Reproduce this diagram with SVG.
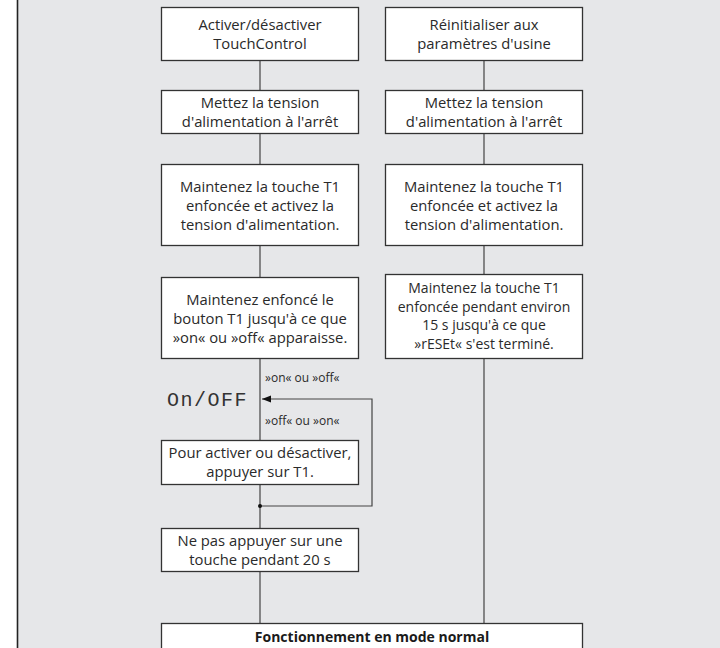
<svg xmlns="http://www.w3.org/2000/svg" width="720" height="648" viewBox="0 0 720 648">
<defs>
<style>
.box{fill:#fff;stroke:#333;stroke-width:1.3}
.t{font-family:"Open Sans","Noto Sans",sans-serif;font-size:14.8px;fill:#2a2a2a;text-anchor:middle}
.t4{font-size:14px}
.lbl{font-family:"Open Sans","Noto Sans",sans-serif;font-size:12px;fill:#2a2a2a}
.ln{fill:none;stroke:#444;stroke-width:1.2}
.b{font-family:"Open Sans","Noto Sans",sans-serif;font-size:14px;font-weight:bold;fill:#1a1a1a;text-anchor:middle}
</style>
<marker id="arr" markerWidth="10" markerHeight="8" refX="9" refY="4" orient="auto" markerUnits="userSpaceOnUse">
<path d="M0,0.5 L9,4 L0,7.5 Z" fill="#111"/>
</marker>
</defs>
<rect x="0" y="0" width="720" height="648" fill="#fff"/>
<rect x="17" y="0" width="703" height="648" fill="#e6e7e9"/>
<line x1="17.5" y1="0" x2="17.5" y2="648" stroke="#222" stroke-width="1.6"/>

<g id="connectors">
<line class="ln" x1="260" y1="61" x2="260" y2="91"/>
<line class="ln" x1="260" y1="134" x2="260" y2="165"/>
<line class="ln" x1="260" y1="246" x2="260" y2="277"/>
<line class="ln" x1="260" y1="358" x2="260" y2="440"/>
<line class="ln" x1="260" y1="485" x2="260" y2="528"/>
<line class="ln" x1="260" y1="572" x2="260" y2="623"/>
<path class="ln" d="M260,506 H372 V399 H262" marker-end="url(#arr)"/>
<circle cx="260" cy="506" r="2" fill="#111"/>
<line class="ln" x1="484" y1="61" x2="484" y2="91"/>
<line class="ln" x1="484" y1="134" x2="484" y2="165"/>
<line class="ln" x1="484" y1="246" x2="484" y2="275"/>
<line class="ln" x1="484" y1="359" x2="484" y2="623"/>
<text class="lbl" x="265" y="382">»on« ou »off«</text>
<text class="lbl" x="265" y="425">»off« ou »on«</text>
</g>

<g id="n1">
<rect class="box" x="161.5" y="7.5" width="197" height="53"/>
<text class="t" x="260" y="30">Activer/désactiver</text>
<text class="t" x="260" y="49">TouchControl</text>
</g>
<g id="n2">
<rect class="box" x="385.5" y="7.5" width="197" height="53"/>
<text class="t" x="484" y="30">Réinitialiser aux</text>
<text class="t" x="484" y="49">paramètres d'usine</text>
</g>
<g id="n3">
<rect class="box" x="161.5" y="90.5" width="197" height="43"/>
<text class="t" x="260" y="107.5">Mettez la tension</text>
<text class="t" x="260" y="126.5">d'alimentation à l'arrêt</text>
</g>
<g id="n4">
<rect class="box" x="385.5" y="90.5" width="197" height="43"/>
<text class="t" x="484" y="107.5">Mettez la tension</text>
<text class="t" x="484" y="126.5">d'alimentation à l'arrêt</text>
</g>
<g id="n5">
<rect class="box" x="161.5" y="164.5" width="197" height="81"/>
<text class="t" x="260" y="191.5">Maintenez la touche T1</text>
<text class="t" x="260" y="210.5">enfoncée et activez la</text>
<text class="t" x="260" y="229.5">tension d'alimentation.</text>
</g>
<g id="n6">
<rect class="box" x="385.5" y="164.5" width="197" height="81"/>
<text class="t" x="484" y="191.5">Maintenez la touche T1</text>
<text class="t" x="484" y="210.5">enfoncée et activez la</text>
<text class="t" x="484" y="229.5">tension d'alimentation.</text>
</g>
<g id="n7">
<rect class="box" x="161.5" y="277.5" width="197" height="81"/>
<text class="t" x="260" y="304.5">Maintenez enfoncé le</text>
<text class="t" x="260" y="323.5">bouton T1 jusqu'à ce que</text>
<text class="t" x="260" y="342.5">»on« ou »off« apparaisse.</text>
</g>
<g id="n8">
<rect class="box" x="385.5" y="274.5" width="197" height="84"/>
<text class="t t4" x="484" y="293">Maintenez la touche T1</text>
<text class="t t4" x="484" y="311.5">enfoncée pendant environ</text>
<text class="t t4" x="484" y="330">15 s jusqu'à ce que</text>
<text class="t t4" x="484" y="348.5">»rESEt« s'est terminé.</text>
</g>
<g id="display">
<text x="167" y="406" font-family="Liberation Mono, monospace" font-size="20" fill="#333" letter-spacing="1.5">On/OFF</text>
</g>
<g id="n9">
<rect class="box" x="161.5" y="440.5" width="197" height="44"/>
<text class="t" x="260" y="457.5">Pour activer ou désactiver,</text>
<text class="t" x="260" y="476.5">appuyer sur T1.</text>
</g>
<g id="n10">
<rect class="box" x="161.5" y="528.5" width="197" height="43"/>
<text class="t" x="260" y="546">Ne pas appuyer sur une</text>
<text class="t" x="260" y="565">touche pendant 20 s</text>
</g>
<g id="n11">
<rect class="box" x="161.5" y="623.5" width="421" height="40"/>
<text class="b" x="372" y="642">Fonctionnement en mode normal</text>
</g>
</svg>
